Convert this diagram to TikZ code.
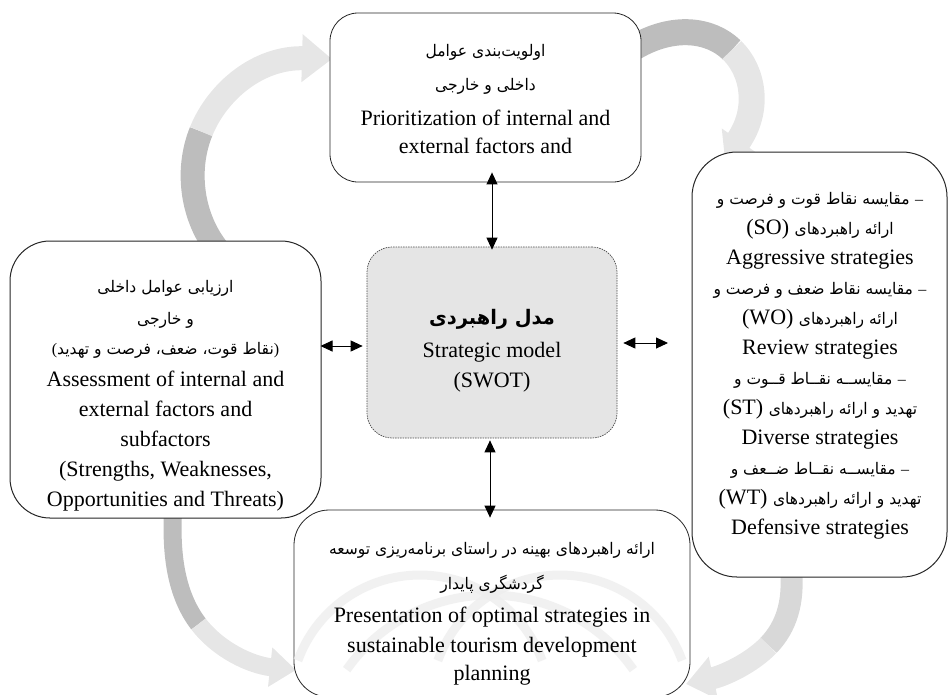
\documentclass[tikz,border=0pt]{standalone}
\usepackage{fontspec}
\setmainfont{Liberation Serif}
\newfontfamily\persianfont[Script=Arabic,FakeStretch=0.97]{DejaVu Sans}
\TeXXeTstate=1
\usetikzlibrary{arrows.meta,calc}
\newcommand\pr[1]{{\persianfont\fontsize{16}{30}\selectfont\beginR #1\endR}}
\newcommand\prb[1]{{\persianfont\bfseries\fontsize{20}{30}\selectfont\beginR #1\endR}}
\newcommand\lt[1]{{\fontsize{16}{30}\selectfont #1}}
\definecolor{agDark}{HTML}{BDBDBD}
\definecolor{agMid}{HTML}{D2D2D2}
\definecolor{agLight}{HTML}{E6E6E6}
\definecolor{wmark}{HTML}{EDEDED}
\tikzset{
  box/.style={draw=black!85, line width=#1, fill=white, inner sep=0pt, shape=rectangle},
  txt/.style={align=center, font=\fontsize{22}{30}\selectfont, inner sep=0pt},
  dbl/.style={{Triangle[length=12pt,width=11pt]}-{Triangle[length=12pt,width=11pt]}, line width=0.9pt},
  bgbody/.style={line width=#1, line cap=butt},
}
\begin{document}
\begin{tikzpicture}[x=1pt,y=-1pt]
\useasboundingbox (0,0) rectangle (949,694);
\clip (0,0) rectangle (949,694);
% background cycle arrows
\draw[bgbody=24, draw=agDark] (218,250) .. controls (193,219) and (184.75,172) .. (201.1,131.5);
\draw[bgbody=24, draw=agLight, -{Triangle[length=30pt,width=46pt]}] (201.1,131.5) .. controls (217.5,91) and (258.5,57) .. (332,59);
\draw[bgbody=26, draw=agDark] (635,47) .. controls (672.5,25) and (710,28.75) .. (731.8,50);
\draw[bgbody=26, draw=agLight, -{Triangle[length=24pt,width=40pt]}] (731.8,50) .. controls (753.75,71.25) and (760,110) .. (725,160);
\draw[bgbody=22, draw=agMid!70!agLight] (791,570) .. controls (794,602.5) and (786.25,627) .. (768.5,645.4);
\draw[bgbody=22, draw=agLight, -{Triangle[length=28pt,width=42pt]}] (768.5,645.4) .. controls (750.75,663.75) and (723,676) .. (686,684);
\draw[bgbody=18, draw=agDark] (173,512) .. controls (170.5,561) and (178.5,598) .. (198.5,624);
\draw[bgbody=18, draw=agLight, -{Triangle[length=26pt,width=38pt]}] (198.5,624) .. controls (218.5,650) and (250.5,665) .. (296,670);
% boxes
\node[box=0.8pt, rounded corners=28pt, minimum width=311pt, minimum height=169pt] (tbox) at (485.5,97.5) {};
\node[box=1pt, rounded corners=40pt, minimum width=311pt, minimum height=277pt] (lbox) at (165.5,379.5) {};
\node[box=1pt, rounded corners=45pt, minimum width=255pt, minimum height=425pt] (rbox) at (819.5,364.5) {};
\node[box=0.8pt, rounded corners=35pt, minimum width=396pt, minimum height=187pt] (bbox) at (492,603.5) {};
\node[draw=black!70, dash pattern=on 1.5pt off 1pt, line width=0.7pt, fill=gray!20, rounded corners=25pt, minimum width=250pt, minimum height=191pt, inner sep=0pt] (cbox) at (492,342.5) {};
% watermark
\begin{scope}[draw=wmark, line width=9pt, opacity=0.75]
\draw plot[domain=200:340, samples=30, smooth] ({420+130*cos(\x)},{705+130*sin(\x)});
\draw plot[domain=200:340, samples=30, smooth] ({560+130*cos(\x)},{705+130*sin(\x)});
\draw plot[domain=215:325, samples=30, smooth] ({490+175*cos(\x)},{770+175*sin(\x)});
\end{scope}
% texts
\node[txt] (tT) at (485.5,99.5) {\pr{اولویت‌بندی عوامل}\\[4pt] \pr{داخلی و خارجی}\\[5pt] Prioritization of internal and\\[-2pt] external factors and};
\node[txt] (lT) at (165.5,396) {\pr{ارزیابی عوامل داخلی}\\[2pt] \pr{و خارجی}\\ \lt{(}\pr{نقاط قوت، ضعف، فرصت و تهدید}\lt{)}\\[2pt] Assessment of internal and\\ external factors and\\ subfactors\\ (Strengths, Weaknesses,\\ Opportunities and Threats)};
\node[txt] (cT) at (492,350.5) {\prb{مدل راهبردی}\\[3pt] Strategic model\\ (SWOT)};
\node[txt] (rT) at (820,365.5) {\pr{مقایسه نقاط قوت و فرصت و} \lt{–}\\ (SO) \pr{ارائه راهبردهای}\\ Aggressive strategies\\ \pr{مقایسه نقاط ضعف و فرصت و} \lt{–}\\ (WO) \pr{ارائه راهبردهای}\\ Review strategies\\ \pr{مقایســه نقــاط قــوت و} \lt{–}\\ (ST) \pr{تهدید و ارائه راهبردهای}\\ Diverse strategies\\ \pr{مقایســه نقــاط ضــعف و} \lt{–}\\ (WT) \pr{تهدید و ارائه راهبردهای}\\ Defensive strategies};
\node[txt] (bT) at (492,614) {\pr{ارائه راهبردهای بهینه در راستای برنامه‌ریزی توسعه}\\[5pt] \pr{گردشگری پایدار}\\[3pt] Presentation of optimal strategies in\\ sustainable tourism development\\[-2pt] planning};
% connectors
\coordinate (rtip) at (668,343);
\draw[dbl] ($(cbox.north |- tbox.south)+(0,-10)$) -- ($(cbox.north)+(0,3)$);
\draw[dbl] ($(cbox.south)+(-2,2)$) -- ($(cbox.south |- bbox.north)+(-2,8)$);
\draw[dbl] ($(lbox.east |- cbox.center)+(-1,3.5)$) -- ($(cbox.west)+(-4,3.5)$);
\draw[dbl] ($(cbox.east)+(6,0.5)$) -- (rtip);
\end{tikzpicture}
\end{document}
